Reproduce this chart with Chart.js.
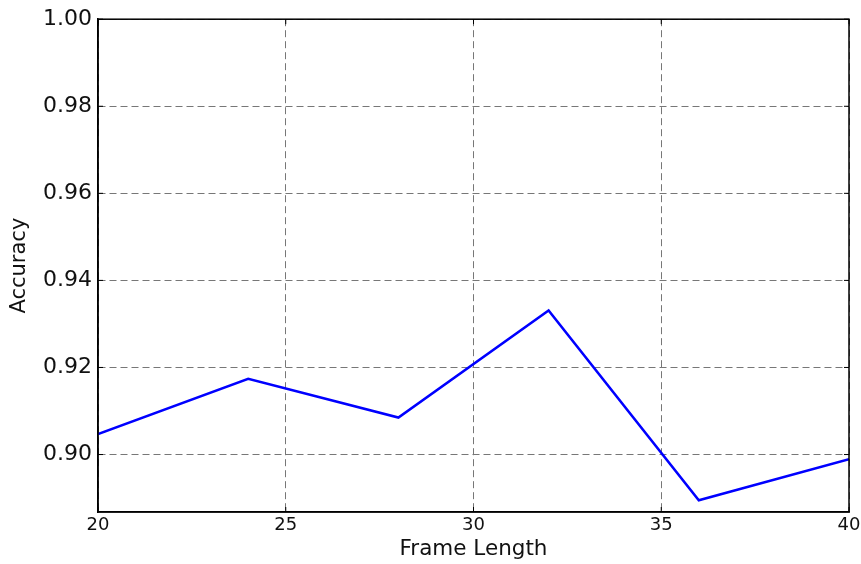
<!DOCTYPE html>
<html>
<head>
<meta charset="utf-8">
<script src="https://cdn.jsdelivr.net/npm/chart.js@4"></script>
<style>
  body { margin: 0; background: #fff; }
</style>
</head>
<body>
<canvas id="myChart" width="861" height="564"></canvas>
<script>
let frameLength = [20, 24, 28, 32, 36, 40];
let accuracy = [0.9047, 0.9174, 0.9085, 0.9331, 0.8895, 0.8989];
let xTicks = [20, 25, 30, 35, 40];
let yTicks = [0.90, 0.92, 0.94, 0.96, 0.98, 1.00];

// box round the plot + small inward ticks on every side, like matplotlib
const framePlugin = {
    id: 'frame',
    afterDraw(c) {
        const {ctx, chartArea: a, scales} = c;
        ctx.save();
        ctx.strokeStyle = '#000';
        ctx.lineWidth = 1.5;
        ctx.strokeRect(a.left, a.top, a.right - a.left, a.bottom - a.top);
        ctx.lineWidth = 1;
        const len = 5;
        ctx.beginPath();
        xTicks.forEach(v => {
            const px = scales.x.getPixelForValue(v);
            ctx.moveTo(px, a.bottom); ctx.lineTo(px, a.bottom - len);
            ctx.moveTo(px, a.top); ctx.lineTo(px, a.top + len);
        });
        yTicks.forEach(v => {
            const py = scales.y.getPixelForValue(v);
            ctx.moveTo(a.left, py); ctx.lineTo(a.left + len, py);
            ctx.moveTo(a.right, py); ctx.lineTo(a.right - len, py);
        });
        ctx.stroke();
        ctx.restore();
    }
};

const chart = {
    type: 'line',
    data: {
        datasets: [{
            data: frameLength.map((x, i) => ({x, y: accuracy[i]})),
            borderColor: '#0000ff',
            borderWidth: 2.5,
            pointRadius: 0,
            tension: 0,
            fill: false
        }]
    },
    options: {
        responsive: false,
        animation: false,
        layout: { padding: { left: 0, top: 17, right: 12, bottom: 0 } },
        plugins: { legend: { display: false }, tooltip: { enabled: false } },
        scales: {
            x: {
                type: 'linear',
                min: 20,
                max: 40,
                afterBuildTicks: s => { s.ticks = xTicks.map(v => ({value: v})); },
                afterFit: s => { s.height = 52; s.paddingLeft = 0; s.paddingRight = 0; },
                ticks: {
                    color: '#111',
                    padding: 3,
                    maxRotation: 0,
                    font: { family: 'DejaVu Sans', size: 18 },
                    callback: v => String(v)
                },
                grid: { color: '#777', lineWidth: 1, drawTicks: false },
                border: { display: true, color: '#000', width: 1.5, dash: [7, 4] },
                title: {
                    display: true,
                    text: 'Frame Length',
                    color: '#111',
                    font: { family: 'DejaVu Sans', size: 21.5 },
                    padding: { top: 0, bottom: 2 }
                }
            },
            y: {
                type: 'linear',
                min: 0.8868,
                max: 1.0,
                afterBuildTicks: s => { s.ticks = yTicks.map(v => ({value: v})); },
                afterFit: s => { s.width = 98; },
                ticks: {
                    color: '#111',
                    padding: 6,
                    font: { family: 'DejaVu Sans', size: 22 },
                    callback: v => v.toFixed(2)
                },
                grid: { color: '#777', lineWidth: 1, drawTicks: false },
                border: { display: true, color: '#000', width: 1.5, dash: [7, 4] },
                title: {
                    display: true,
                    text: 'Accuracy',
                    color: '#111',
                    font: { family: 'DejaVu Sans', size: 21 },
                    padding: { top: 7, bottom: 0 }
                }
            }
        }
    },
    plugins: [framePlugin]
};

const ctx = document.getElementById('myChart').getContext('2d');
const myChart = new Chart(ctx, chart);
</script>
</body>
</html>
